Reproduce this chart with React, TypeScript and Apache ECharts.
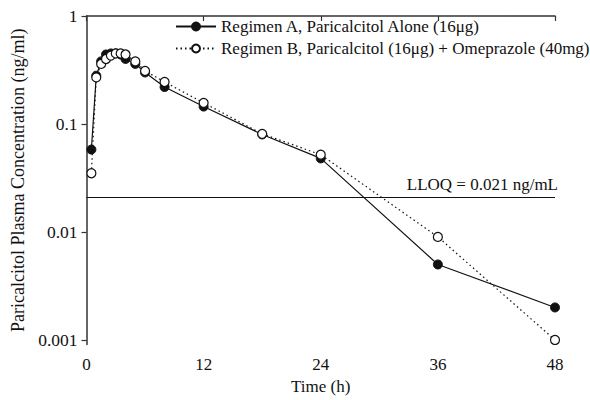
import React, { useEffect, useRef } from "react";
import * as echarts from "echarts";

const times = [0.5, 1, 1.5, 2, 2.5, 3, 3.5, 4, 5, 6, 8, 12, 18, 24, 36, 48];
const regimenA = [0.058, 0.28, 0.38, 0.44, 0.45, 0.45, 0.44, 0.4, 0.36, 0.3, 0.22, 0.145, 0.08, 0.048, 0.005, 0.002];
const regimenB = [0.035, 0.27, 0.36, 0.4, 0.43, 0.45, 0.45, 0.44, 0.38, 0.31, 0.245, 0.157, 0.081, 0.052, 0.009, 0.001];
const lloq = 0.021;
const lloqLabel = "LLOQ = 0.021 ng/mL";
const xTicks = [0, 12, 24, 36, 48];
const yTickValues = [0.001, 0.01, 0.1, 1];
const nameA = "Regimen A, Paricalcitol Alone (16μg)";
const nameB = "Regimen B, Paricalcitol (16μg) + Omeprazole (40mg)";

const FONT = "Liberation Serif";

export default function App() {
  const ref = useRef<HTMLDivElement>(null);
  useEffect(() => {
    if (!ref.current) return;
    const chart = echarts.init(ref.current, undefined, { renderer: "svg" });
    const lg = (v: number) => Math.log10(v);
    const fmt = (v: number) => {
      const p = Math.round(v);
      const val = Math.pow(10, p);
      return p >= 0 ? String(val) : val.toFixed(-p);
    };
    chart.setOption({
      animation: false,
      backgroundColor: "#fff",
      textStyle: { fontFamily: FONT },
      grid: { left: 86.5, right: 35, top: 16, bottom: 55.5 },
      legend: {
        orient: "vertical",
        left: 170,
        top: 13,
        itemWidth: 40,
        itemHeight: 10,
        itemGap: 5,
        data: [nameA, nameB],
        textStyle: { fontFamily: FONT, fontSize: 17, color: "#111" },
      },
      xAxis: {
        type: "value",
        min: 0,
        max: 48,
        interval: 12,
        name: "Time (h)",
        nameLocation: "middle",
        nameGap: 33,
        nameTextStyle: { fontFamily: FONT, fontSize: 17, color: "#111" },
        axisLine: { lineStyle: { color: "#333", width: 1.5 } },
        axisTick: { show: true, length: 5, lineStyle: { color: "#333", width: 1.2 }, customValues: xTicks },
        axisLabel: { fontFamily: FONT, fontSize: 17, color: "#111", margin: 11, customValues: xTicks },
        splitLine: { show: false },
      },
      yAxis: {
        type: "value",
        min: -3.042,
        max: 0,
        name: "Paricalcitol Plasma Concentration (ng/ml)",
        nameLocation: "middle",
        nameGap: 57,
        nameTextStyle: { fontFamily: FONT, fontSize: 18, color: "#111" },
        axisLine: { show: true, lineStyle: { color: "#333", width: 1.5 } },
        axisTick: { show: true, length: 5, lineStyle: { color: "#333", width: 1.2 }, customValues: yTickValues.map(lg) },
        axisLabel: {
          fontFamily: FONT,
          fontSize: 17.5,
          color: "#111",
          margin: 9,
          customValues: yTickValues.map(lg),
          formatter: (v: number) => fmt(v),
        },
        splitLine: { show: false },
      },
      series: [
        {
          name: nameA,
          type: "line",
          data: times.map((t, i) => [t, lg(regimenA[i])]),
          symbol: "circle",
          symbolSize: 9,
          lineStyle: { color: "#111", width: 1.2, type: "solid" },
          itemStyle: { color: "#111", borderColor: "#111", borderWidth: 1 },
          z: 2,
          markLine: {
            silent: true,
            symbol: ["none", "none"],
            lineStyle: { color: "#111", width: 1.2, type: "solid" },
            label: {
              show: true,
              position: "insideEndTop",
              formatter: lloqLabel,
              fontFamily: FONT,
              fontSize: 17,
              color: "#111",
              distance: [-3, 4],
            },
            data: [{ yAxis: lg(lloq) }],
          },
        },
        {
          name: nameB,
          type: "line",
          data: times.map((t, i) => [t, lg(regimenB[i])]),
          symbol: "circle",
          symbolSize: 9,
          lineStyle: { color: "#111", width: 1.2, type: [1.5, 3] },
          itemStyle: { color: "#fff", borderColor: "#111", borderWidth: 1.2 },
          z: 3,
        },
      ],
    });
    return () => chart.dispose();
  }, []);
  return <div ref={ref} style={{ position: "fixed", left: 0, top: 0, width: 590, height: 400 }} />;
}
